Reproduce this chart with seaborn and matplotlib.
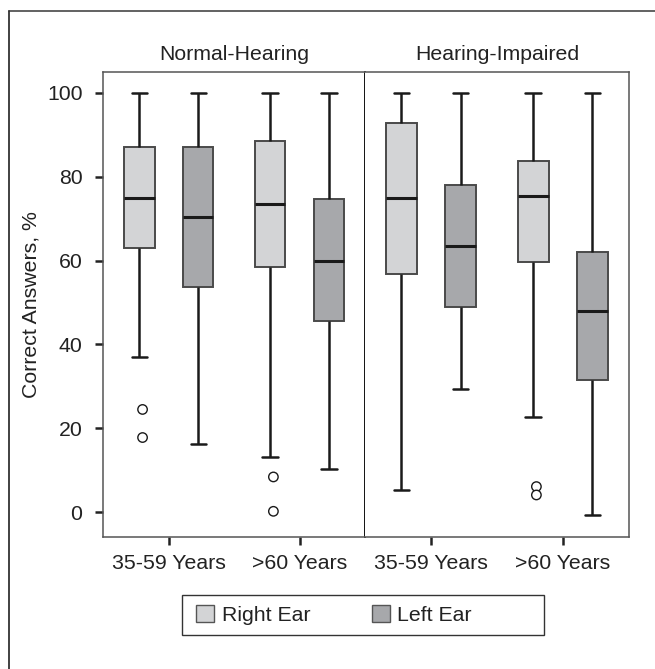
import numpy as np
import pandas as pd
import matplotlib
matplotlib.use("Agg")
import matplotlib.pyplot as plt
from matplotlib.patches import Patch, Rectangle
from matplotlib.lines import Line2D
import seaborn as sns

# ---------------- data ----------------
groups = ["Normal-Hearing", "Hearing-Impaired"]
ages = ["35-59 Years", ">60 Years"]
ears = ["Right Ear", "Left Ear"]

# box order: group -> age -> ear
box_group = ["Normal-Hearing"] * 4 + ["Hearing-Impaired"] * 4
box_age = ["35-59 Years", "35-59 Years", ">60 Years", ">60 Years"] * 2
box_ear = ["Right Ear", "Left Ear"] * 4

whisker_low = [37.0, 16.2, 13.1, 10.2, 5.2, 29.3, 22.6, -0.6]
q1 = [63.1, 53.6, 58.6, 45.6, 56.8, 48.9, 59.7, 31.6]
median = [74.9, 70.3, 73.6, 60.0, 74.9, 63.6, 75.3, 48.0]
q3 = [87.0, 87.0, 88.5, 74.8, 92.9, 78.1, 83.7, 62.0]
whisker_high = [100.0, 100.0, 100.0, 100.0, 100.0, 100.0, 100.0, 100.0]

out_group = ["Normal-Hearing", "Normal-Hearing", "Normal-Hearing", "Normal-Hearing",
             "Hearing-Impaired", "Hearing-Impaired"]
out_age = ["35-59 Years", "35-59 Years", ">60 Years", ">60 Years", ">60 Years", ">60 Years"]
out_ear = ["Right Ear"] * 6
out_value = [24.5, 17.8, 8.4, 0.2, 6.1, 4.1]

y_ticks = [0, 20, 40, 60, 80, 100]
y_label = "Correct Answers, %"

# ---------------- build long-form tables ----------------
rows = []
for g, a, e, lo, b1, m, b3, hi in zip(box_group, box_age, box_ear,
                                       whisker_low, q1, median, q3, whisker_high):
    # five-number summary -> percentiles reproduce q1/median/q3 exactly
    for v in (lo, b1, m, b3, hi):
        rows.append({"group": g, "age": a, "ear": e, "value": v})
df = pd.DataFrame(rows)
df_out = pd.DataFrame({"group": out_group, "age": out_age, "ear": out_ear, "value": out_value})

# ---------------- style ----------------
sns.set_theme(style="white")
plt.rcParams["font.family"] = ["Liberation Sans", "DejaVu Sans"]
plt.rcParams["text.color"] = "#222222"
plt.rcParams["axes.labelcolor"] = "#222222"
plt.rcParams["xtick.color"] = "#222222"
plt.rcParams["ytick.color"] = "#222222"

FS = 15.3
light = "#d3d4d6"
dark = "#a7a8ab"
palette = {"Right Ear": light, "Left Ear": dark}

W, H = 655, 669
fig = plt.figure(figsize=(W / 100, H / 100), dpi=100)

left_px, mid_px, right_px = 103.3, 365.0, 628.7
top_px, bot_px = 72.0, 537.3
b = 1 - bot_px / H
h = (bot_px - top_px) / H
ax1 = fig.add_axes([left_px / W, b, (mid_px - left_px) / W, h])
ax2 = fig.add_axes([mid_px / W, b, (right_px - mid_px) / W, h], sharey=ax1)

box_kw = dict(
    x="age", y="value", hue="ear", order=ages, hue_order=ears,
    palette=palette, whis=(0, 100), width=0.9, gap=0.48, dodge=True,
    showfliers=False, legend=False, saturation=1,
    boxprops=dict(edgecolor="#4a4a4a", linewidth=1.4),
    whiskerprops=dict(color="#1a1a1a", linewidth=1.8),
    capprops=dict(color="#1a1a1a", linewidth=1.8),
    medianprops=dict(color="#1a1a1a", linewidth=2.2),
)

for ax, g in zip([ax1, ax2], groups):
    sns.boxplot(data=df[df["group"] == g], ax=ax, **box_kw)
    sub = df_out[df_out["group"] == g]
    if len(sub):
        sns.stripplot(data=sub, x="age", y="value", hue="ear", order=ages,
                      hue_order=ears, dodge=True, jitter=False, ax=ax,
                      palette={"Right Ear": "white", "Left Ear": "white"},
                      edgecolor="#1a1a1a", linewidth=1.0, size=6.8,
                      legend=False, zorder=5)
    ax.set_xlim(-0.5, 1.5)
    ax.set_title(g, fontsize=FS, pad=9, color="#222222")
    ax.set_xlabel("")
    ax.set_ylabel("")
    ax.tick_params(axis="x", direction="out", length=6, width=1.8,
                   labelsize=FS, pad=6, bottom=True)
    for s in ax.spines.values():
        s.set_color("#555555")
        s.set_linewidth(1.1)
        s.set_visible(True)

ax1.set_ylim(-6, 105)
ax1.set_yticks(y_ticks)
ax1.set_yticklabels([str(t) for t in y_ticks])
ax1.tick_params(axis="y", direction="out", length=6, width=1.8,
                labelsize=FS, pad=9, left=True)
ax1.set_ylabel(y_label, fontsize=FS, labelpad=5)
ax1.spines["right"].set_color("#111111")
ax1.spines["right"].set_linewidth(1.4)
ax2.spines["left"].set_visible(False)
ax2.tick_params(axis="y", left=False, labelleft=False)

# legend: frame drawn as a figure rectangle, entries placed inside it
fig.add_artist(Rectangle((182 / W, 1 - 635 / H), 362 / W, 40 / H,
                         transform=fig.transFigure, fill=False,
                         edgecolor="#333333", linewidth=1.0))
handles = [Patch(facecolor=palette[e], edgecolor="#555555", linewidth=1.0, label=e) for e in ears]
leg = fig.legend(handles=handles, loc="center left", ncol=2,
                 bbox_to_anchor=(196 / W, 1 - 615 / H),
                 fontsize=FS, frameon=False, handlelength=0.85,
                 handleheight=0.85, handletextpad=0.35, columnspacing=2.9,
                 borderpad=0.0, borderaxespad=0.0)

# outer frame (top and left edges)
fx, fy = 9 / W, 1 - 11 / H
fig.add_artist(Line2D([fx, 1.0], [fy, fy], transform=fig.transFigure, color="#555555", lw=1.3))
fig.add_artist(Line2D([fx, fx], [fy, 0.0], transform=fig.transFigure, color="#333333", lw=1.3))

fig.savefig("out.png", dpi=100)
